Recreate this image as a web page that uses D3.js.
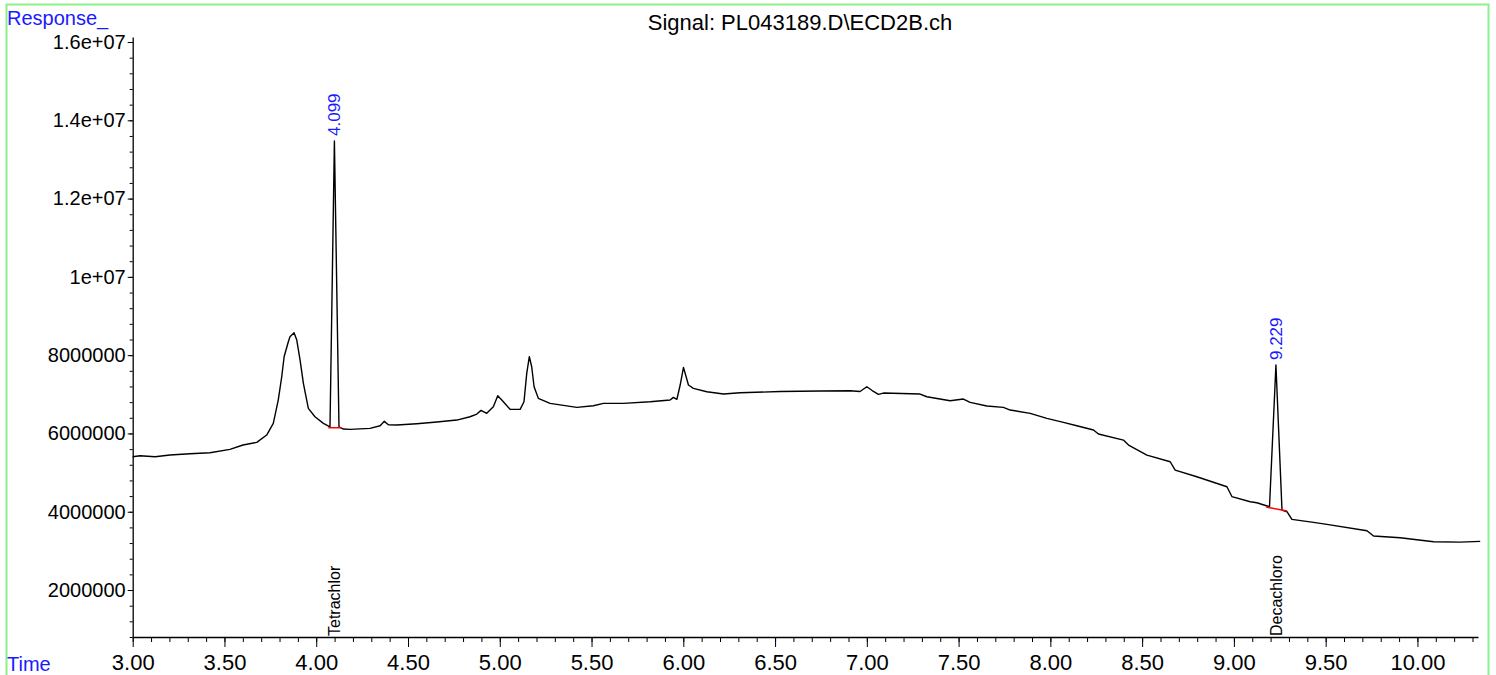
<!DOCTYPE html>
<html>
<head>
<meta charset="utf-8">
<script src="https://cdn.jsdelivr.net/npm/d3@7"></script>
<style>
  body { margin: 0; background: #fff; }
  svg { display: block; font-family: "Liberation Sans", Arial, sans-serif; }
</style>
</head>
<body>
<script>
// chromatogram trace (time in min, response)
var times = [3.000, 3.040, 3.122, 3.203, 3.312, 3.421, 3.530, 3.601, 3.676, 3.730,
  3.766, 3.793, 3.812, 3.825, 3.848, 3.857, 3.879, 3.894, 3.912, 3.930,
  3.957, 3.993, 4.039, 4.075, 4.099, 4.124, 4.148, 4.184, 4.293, 4.348,
  4.371, 4.393, 4.439, 4.548, 4.657, 4.766, 4.838, 4.875, 4.898, 4.929,
  4.965, 4.989, 5.011, 5.056, 5.111, 5.132, 5.147, 5.161, 5.174, 5.187,
  5.210, 5.274, 5.347, 5.420, 5.510, 5.565, 5.674, 5.819, 5.928, 5.946,
  5.965, 5.983, 6.001, 6.028, 6.055, 6.128, 6.219, 6.310, 6.527, 6.745,
  6.909, 6.963, 7.000, 7.029, 7.063, 7.090, 7.290, 7.327, 7.454, 7.526,
  7.563, 7.654, 7.744, 7.781, 7.890, 7.981, 8.071, 8.144, 8.235, 8.262,
  8.398, 8.426, 8.526, 8.653, 8.680, 8.798, 8.962, 8.989, 9.089, 9.125,
  9.194, 9.229, 9.262, 9.289, 9.316, 9.434, 9.507, 9.725, 9.761, 9.906,
  10.088, 10.233, 10.342];
var responses = [5405000, 5430000, 5405000, 5448000, 5481000, 5507000, 5594000, 5704000, 5773000, 5959000,
  6258000, 6853000, 7449000, 7960000, 8343000, 8471000, 8573000, 8386000, 7875000, 7280000,
  6641000, 6427000, 6258000, 6171000, 13471000, 6171000, 6113000, 6105000, 6130000, 6197000,
  6309000, 6223000, 6215000, 6248000, 6291000, 6342000, 6427000, 6496000, 6590000, 6514000,
  6682000, 6963000, 6853000, 6616000, 6616000, 6810000, 7536000, 7960000, 7704000, 7193000,
  6897000, 6769000, 6718000, 6667000, 6708000, 6769000, 6769000, 6810000, 6853000, 6922000,
  6871000, 7237000, 7689000, 7237000, 7152000, 7066000, 7007000, 7040000, 7071000, 7083000,
  7091000, 7071000, 7193000, 7096000, 6999000, 7032000, 7007000, 6938000, 6836000, 6879000,
  6795000, 6700000, 6667000, 6598000, 6514000, 6386000, 6284000, 6197000, 6087000, 5985000,
  5831000, 5704000, 5448000, 5277000, 5065000, 4894000, 4638000, 4388000, 4255000, 4230000,
  4127000, 7748000, 4043000, 4000000, 3805000, 3729000, 3678000, 3514000, 3379000, 3335000,
  3233000, 3225000, 3243000];

// integrated peaks
var peakRT = [4.099, 9.229];
var peakApex = [13471000, 7748000];
var peakNames = ["Tetrachlor", "Decachloro"];
var baseStartT = [4.066, 9.176];
var baseStartV = [6146000, 4120000];
var baseEndT = [4.139, 9.290];
var baseEndV = [6146000, 4017000];

var xTicks = [3.0, 3.5, 4.0, 4.5, 5.0, 5.5, 6.0, 6.5, 7.0, 7.5, 8.0, 8.5, 9.0, 9.5, 10.0];
var yTicks = [2000000, 4000000, 6000000, 8000000, 10000000, 12000000, 14000000, 16000000];
var yTickLabels = ["2000000", "4000000", "6000000", "8000000", "1e+07", "1.2e+07", "1.4e+07", "1.6e+07"];

var width = 1496, height = 675;
var svg = d3.select("body").append("svg")
    .attr("width", width)
    .attr("height", height);

// green frame
svg.append("rect")
    .attr("x", 6.5).attr("y", 4.5)
    .attr("width", 1482).attr("height", 700)
    .attr("fill", "none")
    .attr("stroke", "#8cf08c")
    .attr("stroke-width", 2);

var x = d3.scaleLinear().domain([3, 10.33]).range([132.7, 1478]);
var y = d3.scaleLinear().domain([800000, 16128000]).range([637, 37]);

// minor ticks
var xMinor = d3.range(30, 104).map(function(d){ return d / 10; });
var yMinor = d3.range(2, 41).map(function(d){ return d * 400000; });

svg.append("g")
    .attr("transform", "translate(0,637)")
    .call(d3.axisBottom(x).tickValues(xMinor).tickSize(5).tickSizeOuter(0).tickFormat(""))
    .call(function(g){ g.select(".domain").remove(); });
svg.append("g")
    .attr("transform", "translate(132.7,0)")
    .call(d3.axisLeft(y).tickValues(yMinor).tickSize(3).tickSizeOuter(0).tickFormat(""))
    .call(function(g){ g.select(".domain").remove(); });

var xAxis = svg.append("g")
    .attr("transform", "translate(0,637)")
    .call(d3.axisBottom(x).tickValues(xTicks).tickSize(10).tickSizeOuter(0)
      .tickFormat(d3.format(".2f")).tickPadding(7));
xAxis.selectAll("text").attr("font-size", 22).attr("fill", "#000")
    .attr("font-family", "Liberation Sans, Arial, sans-serif");

var yAxis = svg.append("g")
    .attr("transform", "translate(132.7,0)")
    .call(d3.axisLeft(y).tickValues(yTicks).tickSize(5).tickSizeOuter(0)
      .tickFormat(function(d, i){ return yTickLabels[i]; }).tickPadding(2));
yAxis.selectAll("text").attr("font-size", 20).attr("fill", "#000")
    .attr("font-family", "Liberation Sans, Arial, sans-serif");

svg.selectAll(".domain").attr("stroke", "#000").attr("stroke-width", 1.3);
svg.selectAll(".tick line").attr("stroke", "#000");

// trace
var line = d3.line()
    .x(function(d, i){ return x(times[i]); })
    .y(function(d){ return y(d); });
svg.append("path")
    .datum(responses)
    .attr("d", line)
    .attr("fill", "none")
    .attr("stroke", "#000")
    .attr("stroke-width", 1.4)
    .attr("stroke-linejoin", "round");

// integration baselines + labels
peakRT.forEach(function(rt, i){
  svg.append("line")
      .attr("x1", x(baseStartT[i])).attr("y1", y(baseStartV[i]))
      .attr("x2", x(baseEndT[i])).attr("y2", y(baseEndV[i]))
      .attr("stroke", "#ff0000")
      .attr("stroke-width", 1.5);

  svg.append("text")
      .attr("transform", "translate(" + x(rt) + "," + (y(peakApex[i]) - 5) + ") rotate(-90)")
      .attr("dy", "0.35em")
      .attr("font-size", 17)
      .attr("fill", "#1a1aff")
      .text(d3.format(".3f")(rt));

  svg.append("text")
      .attr("transform", "translate(" + x(rt) + ",636) rotate(-90)")
      .attr("dy", "0.35em")
      .attr("font-size", 16)
      .attr("fill", "#000")
      .text(peakNames[i]);
});

// titles
svg.append("text")
    .attr("x", 800).attr("y", 30)
    .attr("text-anchor", "middle")
    .attr("font-size", 22)
    .attr("fill", "#000")
    .text("Signal: PL043189.D\\ECD2B.ch");

svg.append("text")
    .attr("x", 7).attr("y", 25)
    .attr("font-size", 20)
    .attr("fill", "#1a1aff")
    .text("Response_");

svg.append("text")
    .attr("x", 7).attr("y", 671)
    .attr("font-size", 20)
    .attr("fill", "#1a1aff")
    .text("Time");
</script>
</body>
</html>
